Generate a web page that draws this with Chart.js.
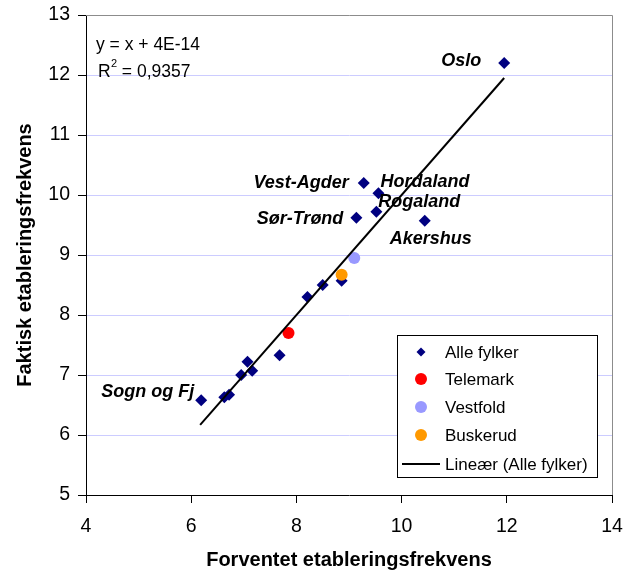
<!DOCTYPE html>
<html>
<head>
<meta charset="utf-8">
<script src="https://cdn.jsdelivr.net/npm/chart.js@4.4.0/dist/chart.umd.min.js"></script>
<style>
  body { margin: 0; background: #fff; }
  #wrap { width: 636px; height: 570px; }
</style>
</head>
<body>
<div id="wrap"><canvas id="scatterChart" width="636" height="570"></canvas></div>
<script>
// Alle fylker (forventet, faktisk)
const allX = [11.95, 9.28, 9.56, 9.52, 9.14, 10.44, 8.86, 8.50, 8.21, 7.68, 7.07, 7.16, 6.95, 6.72, 6.63, 6.19];
const allY = [12.2, 10.2, 10.03, 9.72, 9.62, 9.57, 8.57, 8.5, 8.3, 7.33, 7.22, 7.07, 7.0, 6.67, 6.63, 6.58];
const pointNames = ['Oslo', 'Vest-Agder', 'Hordaland', 'Rogaland', 'Sør-Trønd', 'Akershus', '', '', '', '', '', '', '', '', '', 'Sogn og Fj'];

const highlightNames = ['Telemark', 'Vestfold', 'Buskerud'];
const highlightX = [7.85, 9.10, 8.86];
const highlightY = [7.7, 8.95, 8.67];
const highlightColors = ['#ff0000', '#9999ff', '#ff9900'];

const trendX = [6.17, 11.95];
const slope = 1;
const intercept = 4e-14;

const xTicks = [4, 6, 8, 10, 12, 14];
const yTicks = [5, 6, 7, 8, 9, 10, 11, 12, 13];

// label offsets (px) relative to the point, [dx, dy, align]
const labelOffsets = {
    'Oslo': [-23, -2, 'right'],
    'Vest-Agder': [-15, 0, 'right'],
    'Hordaland': [2, -11, 'left'],
    'Rogaland': [2, -10, 'left'],
    'Sør-Trønd': [-13, 1, 'right'],
    'Akershus': [6, 18, 'center'],
    'Sogn og Fj': [-7, -8, 'right']
};

const FONT = '"Liberation Sans", Arial, sans-serif';

const datasets = [{
    label: 'Alle fylker',
    data: allX.map((x, i) => ({ x: x, y: allY[i] })),
    pointStyle: 'rectRot',
    pointRadius: 6,
    backgroundColor: '#000080',
    borderColor: '#000080',
    borderWidth: 0,
    showLine: false,
    order: 2
}];
highlightNames.forEach((name, i) => {
    datasets.push({
        label: name,
        data: [{ x: highlightX[i], y: highlightY[i] }],
        pointStyle: 'circle',
        pointRadius: 6,
        backgroundColor: highlightColors[i],
        borderColor: highlightColors[i],
        borderWidth: 0,
        showLine: false,
        order: 1
    });
});
datasets.push({
    label: 'Lineær (Alle fylker)',
    type: 'line',
    data: trendX.map(x => ({ x: x, y: slope * x + intercept })),
    borderColor: '#000000',
    borderWidth: 2,
    pointRadius: 0,
    fill: false,
    order: 0
});

const decorPlugin = {
    id: 'decor',
    beforeDatasetsDraw(chart) {
        const { ctx, chartArea: a } = chart;
        ctx.save();
        ctx.strokeStyle = '#8c8c8c';
        ctx.lineWidth = 1;
        ctx.beginPath();
        ctx.moveTo(a.left, a.top + 0.5);
        ctx.lineTo(a.right + 0.5, a.top + 0.5);
        ctx.lineTo(a.right + 0.5, a.bottom);
        ctx.stroke();
        ctx.restore();
    },
    afterDatasetsDraw(chart) {
        const { ctx, chartArea: a, scales } = chart;
        ctx.save();
        // point labels
        ctx.font = 'italic bold 18px ' + FONT;
        ctx.fillStyle = '#000';
        ctx.textBaseline = 'middle';
        pointNames.forEach((name, i) => {
            if (!name) return;
            const off = labelOffsets[name];
            ctx.textAlign = off[2];
            ctx.fillText(name, scales.x.getPixelForValue(allX[i]) + off[0], scales.y.getPixelForValue(allY[i]) + off[1]);
        });

        // equation
        ctx.font = '17.5px ' + FONT;
        ctx.textAlign = 'left';
        ctx.fillText('y = x + 4E-14', a.left + 10, 45);
        ctx.fillText('R', a.left + 12, 72);
        ctx.font = '11px ' + FONT;
        ctx.fillText('2', a.left + 25, 64);
        ctx.font = '17.5px ' + FONT;
        ctx.fillText(' = 0,9357', a.left + 31, 72);

        // legend box
        const lx = 397, ly = 335, lw = 200, lh = 142;
        ctx.fillStyle = '#fff';
        ctx.fillRect(lx, ly, lw, lh);
        ctx.strokeStyle = '#000';
        ctx.lineWidth = 1;
        ctx.strokeRect(lx + 0.5, ly + 0.5, lw, lh);
        const rowY = [352, 379, 407, 435, 464];
        chart.data.datasets.forEach((ds, i) => {
            const y = rowY[i];
            if (ds.type === 'line') {
                ctx.strokeStyle = '#000';
                ctx.lineWidth = 2;
                ctx.beginPath();
                ctx.moveTo(402, y);
                ctx.lineTo(440, y);
                ctx.stroke();
            } else if (ds.pointStyle === 'rectRot') {
                ctx.fillStyle = ds.backgroundColor;
                ctx.beginPath();
                ctx.moveTo(421, y - 4.5);
                ctx.lineTo(425.5, y);
                ctx.lineTo(421, y + 4.5);
                ctx.lineTo(416.5, y);
                ctx.closePath();
                ctx.fill();
            } else {
                ctx.fillStyle = ds.backgroundColor;
                ctx.beginPath();
                ctx.arc(421, y, 6, 0, Math.PI * 2);
                ctx.fill();
            }
            ctx.fillStyle = '#000';
            ctx.font = '17px ' + FONT;
            ctx.textAlign = 'left';
            ctx.textBaseline = 'middle';
            ctx.fillText(ds.label, 445, y + 1);
        });
        ctx.restore();
    }
};

const ctx = document.getElementById('scatterChart').getContext('2d');
new Chart(ctx, {
    type: 'scatter',
    data: { datasets: datasets },
    options: {
        responsive: false,
        animation: false,
        layout: { padding: { top: 15, right: 24, left: 0, bottom: 0 } },
        plugins: {
            legend: { display: false },
            tooltip: { enabled: false }
        },
        scales: {
            x: {
                type: 'linear',
                min: 4,
                max: 14,
                afterBuildTicks: scale => { scale.ticks = xTicks.map(v => ({ value: v })); },
                afterFit: scale => { scale.height = 75; },
                grid: {
                    display: true,
                    drawOnChartArea: false,
                    drawTicks: true,
                    tickLength: 8,
                    color: '#000'
                },
                border: { display: true, color: '#000', width: 1 },
                ticks: {
                    color: '#000',
                    font: { family: FONT, size: 19.5 },
                    padding: 12,
                    maxRotation: 0
                },
                title: {
                    display: true,
                    text: 'Forventet etableringsfrekvens',
                    color: '#000',
                    font: { family: FONT, size: 20, weight: 'bold', lineHeight: 1.0 },
                    padding: { top: 0, bottom: 0 }
                }
            },
            y: {
                type: 'linear',
                min: 5,
                max: 13,
                afterBuildTicks: scale => { scale.ticks = yTicks.map(v => ({ value: v })); },
                afterFit: scale => { scale.width = 86; },
                grid: {
                    display: true,
                    color: ctx => (ctx.tick && (ctx.tick.value === 5 || ctx.tick.value === 13)) ? 'rgba(0,0,0,0)' : '#ccccff',
                    tickColor: '#000',
                    tickLength: 8,
                    drawTicks: true
                },
                border: { display: true, color: '#000', width: 1 },
                ticks: {
                    color: '#000',
                    font: { family: FONT, size: 19.5, lineHeight: 0.5 },
                    padding: 8
                },
                title: {
                    display: true,
                    text: 'Faktisk etableringsfrekvens',
                    color: '#000',
                    font: { family: FONT, size: 20, weight: 'bold' },
                    padding: { top: 13, bottom: 0 }
                }
            }
        }
    },
    plugins: [decorPlugin]
});
</script>
</body>
</html>
